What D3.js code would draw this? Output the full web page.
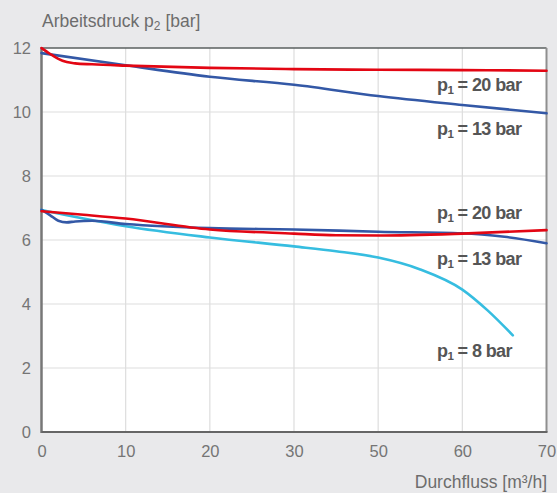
<!DOCTYPE html>
<html><head><meta charset="utf-8">
<script src="https://cdn.jsdelivr.net/npm/d3@7"></script>
<style>
html,body{margin:0;padding:0;background:#e9e9eb;}
svg{display:block;}
text{font-family:"Liberation Sans",Arial,sans-serif;}
</style></head>
<body>
<svg id="c" width="557" height="493"></svg>
<script>
// Tick labels (original chart skips 40 on the axis)
const xTicks = [0, 10, 20, 30, 50, 60, 70];
const yTicks = [0, 2, 4, 6, 8, 10, 12];

// Series: [flow m³/h, pressure bar]
const upper20 = [[0,12.0],[1,11.82],[2,11.66],[3,11.56],[4,11.52],[6,11.49],[10,11.45],[20,11.38],[30,11.34],[50,11.32],[60,11.31],[70,11.29]];
const upper13 = [[0,11.84],[10,11.46],[20,11.1],[30,10.85],[50,10.5],[60,10.22],[70,9.96]];
const lower20 = [[0,6.9],[5,6.79],[10,6.67],[20,6.33],[30,6.2],[40,6.15],[50,6.14],[60,6.2],[70,6.31]];
const lower13 = [[0,6.94],[1,6.78],[2,6.6],[3,6.55],[4,6.58],[6,6.6],[10,6.5],[20,6.37],[30,6.33],[50,6.26],[60,6.21],[65,6.1],[70,5.9]];
const lower8  = [[0,6.94],[5,6.67],[10,6.43],[20,6.08],[30,5.8],[40,5.65],[50,5.45],[55,5.08],[60,4.45],[63,3.8],[66,3.02]];

const series = [
  {data: upper13, color: "#3358a6"},
  {data: upper20, color: "#e30613"},
  {data: lower8,  color: "#36bde0"},
  {data: lower13, color: "#3358a6"},
  {data: lower20, color: "#e30613"}
];
const labels = [
  {num: "20", y: 91},
  {num: "13", y: 135},
  {num: "20", y: 219},
  {num: "13", y: 265},
  {num: "8",  y: 357}
];

const L = 41.5, R = 546.5, T = 48, B = 432;
const svg = d3.select("#c");
const step = (R - L) / (xTicks.length - 1);
const x = d3.scaleLinear().domain(xTicks).range(xTicks.map((d, i) => L + i * step));
const y = d3.scaleLinear().domain([0, 12]).range([B, T]);

svg.append("rect").attr("x", L).attr("y", T).attr("width", R - L).attr("height", B - T).attr("fill", "#fff");

// grid
const g = svg.append("g");
g.selectAll(".gx").data(xTicks.slice(1, -1)).join("line")
  .attr("x1", d => x(d)).attr("x2", d => x(d)).attr("y1", T).attr("y2", B)
  .attr("stroke", "#dddddd").attr("stroke-width", 1.2);
g.selectAll(".gy").data(yTicks.slice(1, -1)).join("line")
  .attr("x1", L).attr("x2", R).attr("y1", d => y(d)).attr("y2", d => y(d))
  .attr("stroke", "#dddddd").attr("stroke-width", 1.2);

// frame
svg.append("line").attr("x1", L).attr("x2", R).attr("y1", T).attr("y2", T).attr("stroke", "#5a5f5f").attr("stroke-width", 1.5);
svg.append("line").attr("x1", R).attr("x2", R).attr("y1", T).attr("y2", B).attr("stroke", "#8f8f8f").attr("stroke-width", 2);
svg.append("line").attr("x1", L).attr("x2", L).attr("y1", T - 0.75).attr("y2", B + 1).attr("stroke", "#777").attr("stroke-width", 2.5);
svg.append("line").attr("x1", L).attr("x2", R + 1).attr("y1", B).attr("y2", B).attr("stroke", "#666").attr("stroke-width", 2);

// lines
const line = d3.line().x(d => x(d[0])).y(d => y(d[1])).curve(d3.curveMonotoneX);
svg.append("g").selectAll("path").data(series).join("path")
  .attr("d", d => line(d.data)).attr("fill", "none")
  .attr("stroke", d => d.color).attr("stroke-width", 2.6).attr("stroke-linecap", "round");

// axes
const yAxis = d3.axisLeft(y).tickValues(yTicks).tickSize(0).tickPadding(0).tickFormat(d3.format("d"));
const ya = svg.append("g").attr("transform", `translate(31,0)`).call(yAxis);
ya.select(".domain").remove();
ya.selectAll("text").attr("font-size", 16.5).attr("fill", "#757575").attr("dy", "0.35em").attr("font-family", "'Liberation Sans',Arial,sans-serif");

const xAxis = d3.axisBottom(x).tickValues(xTicks).tickSize(0).tickPadding(0).tickFormat(d => String(d));
const xa = svg.append("g").attr("transform", `translate(0,${B})`).call(xAxis);
xa.select(".domain").remove();
xa.selectAll("text").attr("font-size", 16.5).attr("fill", "#757575").attr("dy", null).attr("y", 25).attr("font-family", "'Liberation Sans',Arial,sans-serif");

// titles
const yt = svg.append("text").attr("x", 42).attr("y", 27).attr("font-size", 17.5).attr("fill", "#6d6d6d");
yt.append("tspan").text("Arbeitsdruck p");
yt.append("tspan").attr("font-size", 12).attr("dy", 3).text("2");
yt.append("tspan").attr("dy", -3).text(" [bar]");

svg.append("text").attr("x", 547).attr("y", 488).attr("text-anchor", "end")
  .attr("font-size", 17.5).attr("fill", "#6d6d6d")
  .text("Durchfluss [m³/h]");

// series labels
labels.forEach(l => {
  const t = svg.append("text").attr("x", 437).attr("y", l.y).attr("font-size", 18)
    .attr("font-weight", 700).attr("fill", "#555").attr("letter-spacing", -0.6);
  t.append("tspan").text("p");
  t.append("tspan").attr("font-size", 11.5).attr("dy", 3).text("1");
  t.append("tspan").attr("dy", -3).text(" = " + l.num + " bar");
});
</script>
</body></html>
